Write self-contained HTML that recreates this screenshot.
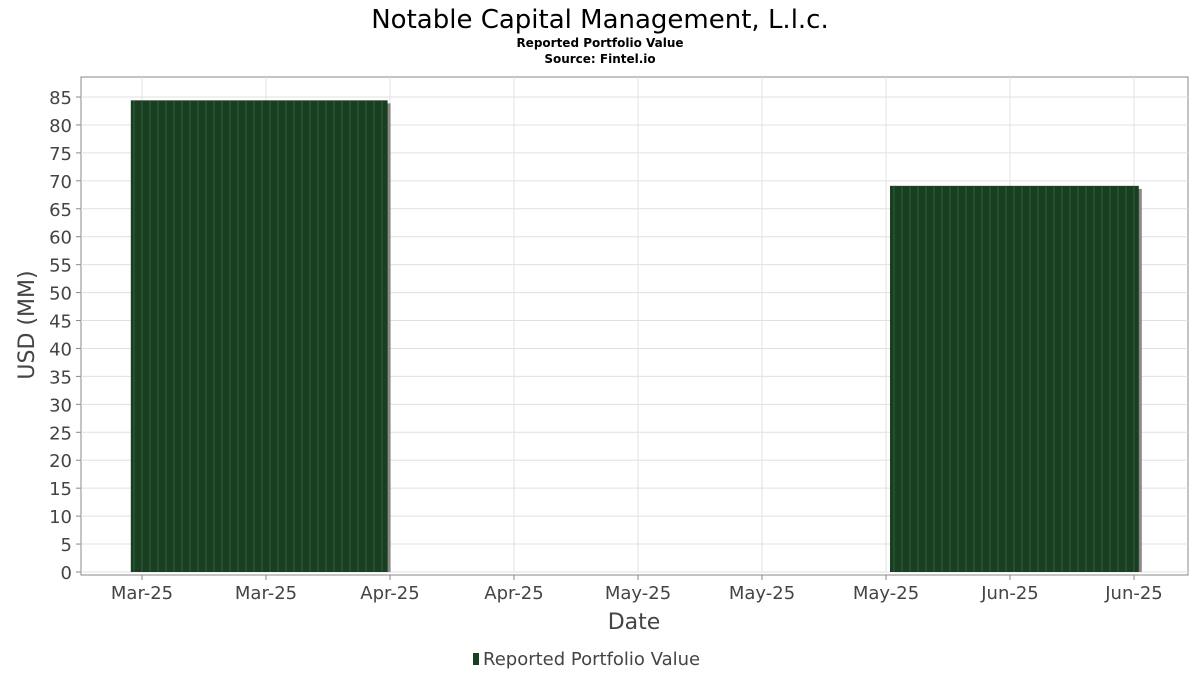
<!DOCTYPE html>
<html><head><meta charset="utf-8"><style>
body{margin:0;background:#fff;font-family:"DejaVu Sans","Liberation Sans",sans-serif;}
</style></head><body>
<svg width="1200" height="675" xmlns="http://www.w3.org/2000/svg" font-family="DejaVu Sans, Liberation Sans, sans-serif">
<text x="600" y="28" text-anchor="middle" font-size="26" fill="#000">Notable Capital Management, L.l.c.</text>
<text x="600" y="47" text-anchor="middle" font-size="12" font-weight="bold">Reported Portfolio Value</text>
<text x="600" y="63" text-anchor="middle" font-size="12" font-weight="bold">Source: Fintel.io</text>
<rect x="81" y="77" width="1107" height="498" fill="#fff" stroke="#888"/>
<g id="grid"></g><g id="bars"></g><g id="axes"></g>
<text x="634" y="629" text-anchor="middle" font-size="22" fill="#444">Date</text>
<text transform="translate(34,325) rotate(-90)" text-anchor="middle" font-size="22" fill="#444">USD (MM)</text>
<g>
<rect x="473" y="653" width="6" height="12" fill="#173f20"/>
<text x="483" y="665" font-size="18" fill="#444">Reported Portfolio Value</text>
</g>
</svg>
<script>
const yTicks=[0,5,10,15,20,25,30,35,40,45,50,55,60,65,70,75,80,85];
const xTickLabels=["Mar-25","Mar-25","Apr-25","Apr-25","May-25","May-25","May-25","Jun-25","Jun-25"];
const barStartDays=[-1.4,93.5];
const barEndDays=[30.7,124.6];
const barValues=[84.4,69.1];
const NS="http://www.w3.org/2000/svg";
const y=v=>572-v*475/85;
const x=d=>142+d*8;
const tickX=i=>142+i*124;
function mk(tag,attrs,parent,txt){const e=document.createElementNS(NS,tag);for(const k in attrs)e.setAttribute(k,attrs[k]);if(txt!==undefined)e.textContent=txt;parent.appendChild(e);return e;}
const grid=document.getElementById('grid'),bars=document.getElementById('bars'),axes=document.getElementById('axes');
yTicks.forEach(v=>{
 const l=mk('line',{x1:81,x2:1188,y1:y(v),y2:y(v),stroke:'#e0e0e0'},grid);
 
 
 mk('line',{x1:76,x2:81,y1:y(v),y2:y(v),stroke:'#888'},axes);
 const t=mk('text',{x:72,y:y(v)+7,'text-anchor':'end','font-size':18,fill:'#444'},axes,String(v));
 
 
});
xTickLabels.forEach((s,i)=>{
 const l=mk('line',{x1:tickX(i),x2:tickX(i),y1:77,y2:572,stroke:'#e0e0e0'},grid);
 
 
 mk('line',{x1:tickX(i),x2:tickX(i),y1:575,y2:580,stroke:'#888'},axes);
 const t=mk('text',{x:tickX(i),y:599,'text-anchor':'middle','font-size':18,fill:'#444'},axes,s);
 
 
});
mk('line',{x1:81,x2:1188,y1:575,y2:575,stroke:'#888'},axes);
barValues.forEach((v,i)=>{
 const x0=x(barStartDays[i]),x1=x(barEndDays[i]);
 mk('rect',{x:x0+3,y:y(v)+3,width:x1-x0,height:572-y(v)-3,fill:'#888'},bars);
 const r=mk('rect',{x:x0,y:y(v),width:x1-x0,height:572-y(v),fill:'#173f20'},bars);
 
 
 for(let d=Math.ceil(barStartDays[i]);d<barEndDays[i];d++){
  mk('line',{x1:x(d),x2:x(d),y1:y(v),y2:572,stroke:'#3a5e40','stroke-width':1},bars);
 }
});
</script>
</body></html>
